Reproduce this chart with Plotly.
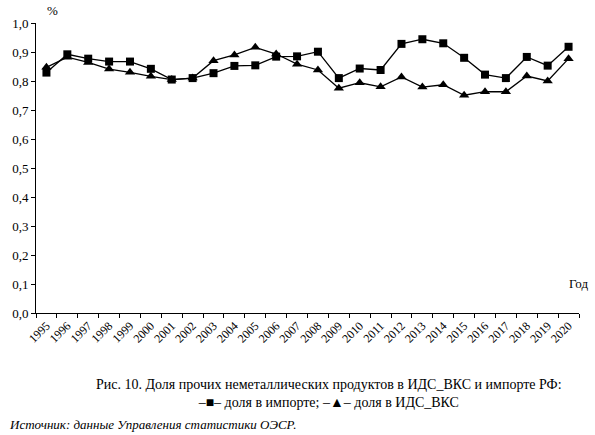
import plotly.graph_objects as go


YEARS = [str(y) for y in range(1995, 2021)]

# доля в импорте (squares)
IMPORT_SHARE = [
	0.829, 0.892, 0.877, 0.867, 0.867, 0.842, 0.805, 0.810, 0.827, 0.852,
	0.854, 0.884, 0.885, 0.901, 0.810, 0.843, 0.838, 0.928, 0.944, 0.930,
	0.880, 0.822, 0.810, 0.883, 0.853, 0.918,
]

# доля в ИДС_ВКС (triangles)
GVC_SHARE = [
	0.847, 0.882, 0.864, 0.841, 0.830, 0.816, 0.805, 0.810, 0.870, 0.890,
	0.916, 0.893, 0.858, 0.838, 0.775, 0.794, 0.780, 0.814, 0.779, 0.787,
	0.751, 0.763, 0.763, 0.817, 0.800, 0.877,
]

Y_TICKS = [0.0, 0.1, 0.2, 0.3, 0.4, 0.5, 0.6, 0.7, 0.8, 0.9, 1.0]

FONT = 'Liberation Serif'

fig = go.Figure()

fig.add_trace(go.Scatter(
	x=YEARS, y=IMPORT_SHARE,
	mode='lines+markers',
	line=dict(color='black', width=1.3),
	marker=dict(symbol='square', size=8, color='black'),
	name='доля в импорте',
))
fig.add_trace(go.Scatter(
	x=YEARS, y=GVC_SHARE,
	mode='lines+markers',
	line=dict(color='black', width=1.3),
	marker=dict(symbol='triangle-up', size=9, color='black'),
	name='доля в ИДС_ВКС',
))

fig.update_layout(
	width=595, height=435,
	margin=dict(l=34, r=16, t=23, b=122),
	paper_bgcolor='white',
	plot_bgcolor='white',
	showlegend=False,
	separators=', ',
	font=dict(family=FONT, size=12, color='black'),
)

fig.update_xaxes(
	type='category',
	range=[-0.5, 25.5],
	showline=True, linecolor='black', linewidth=1,
	showgrid=False, zeroline=False,
	ticks='outside', ticklen=4, tickcolor='black',
	tickson='boundaries',
	tickangle=-45,
	tickfont=dict(family=FONT, size=12),
)
fig.update_yaxes(
	range=[0, 1.0],
	tickvals=Y_TICKS,
	tickformat='.1f',
	showline=True, linecolor='black', linewidth=1,
	showgrid=False, zeroline=False,
	ticks='outside', ticklen=4, tickcolor='black',
	tickfont=dict(family=FONT, size=13),
)

fig.add_annotation(
	text='%', xref='paper', yref='paper', x=0.03, y=1.0,
	xanchor='center', yanchor='bottom', yshift=3, showarrow=False,
	font=dict(family=FONT, size=13),
)
fig.add_annotation(
	text='Год', xref='paper', yref='paper', x=1.02, y=0.103,
	xanchor='right', yanchor='middle', showarrow=False,
	font=dict(family=FONT, size=13),
)
fig.add_annotation(
	text='Рис. 10. Доля прочих неметаллических продуктов в ИДС_ВКС и импорте РФ:<br>'
		 '–■– доля в импорте; –▲– доля в ИДС_ВКС',
	xref='paper', yref='paper', x=0.54, y=-0.279,
	xanchor='center', yanchor='middle', showarrow=False,
	font=dict(family=FONT, size=14),
)
fig.add_annotation(
	text='<i>Источник: данные Управления статистики ОЭСР.</i>',
	xref='paper', yref='paper', x=-0.053, y=-0.386,
	xanchor='left', yanchor='middle', showarrow=False,
	font=dict(family=FONT, size=13),
)

# drop the default 8px body margin so the figure sits at the page corner
fig.write_html(
	'out.html',
	config={'displayModeBar': False},
	post_script="document.body.style.margin = '0';",
)
